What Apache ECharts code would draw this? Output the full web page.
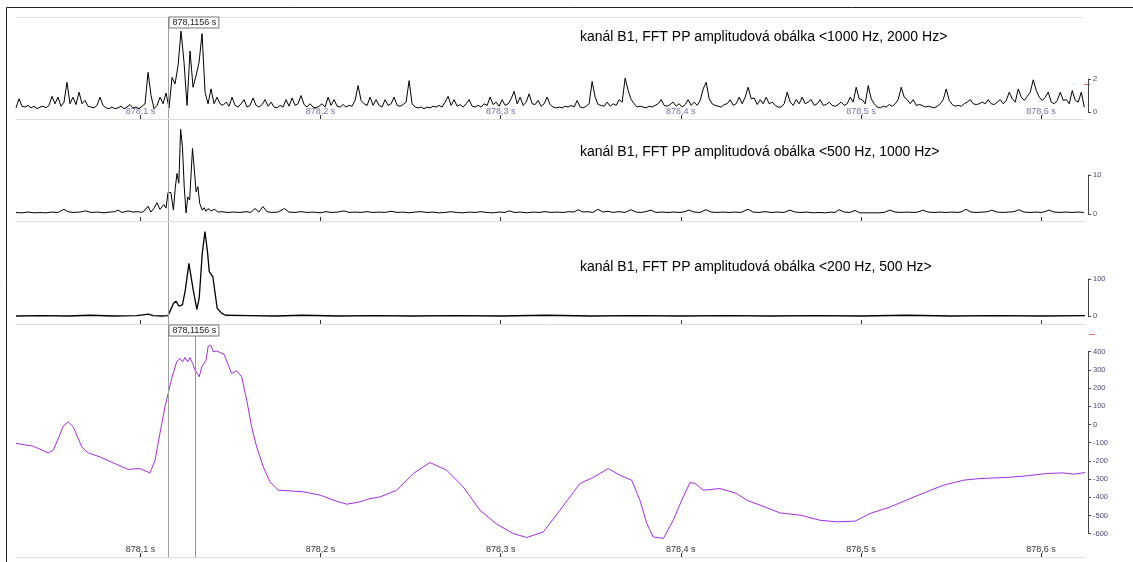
<!DOCTYPE html>
<html><head><meta charset="utf-8">
<script src="https://cdn.jsdelivr.net/npm/echarts@6/dist/echarts.min.js"></script>
<style>html,body{margin:0;padding:0;background:#fff;}#c{width:1133px;height:562px;}</style>
</head><body><div id="c"></div>
<script>
// ---------- DATA (time in ms after 878 s) ----------
const tickMs = [100, 200, 300, 400, 500, 600];
const cursorMs = 115.6;
const cursor2Ms = 130.3;
const cursorLabel = '878,1156 s';
const titles = [
  'kanál B1, FFT PP amplitudová obálka <1000 Hz, 2000 Hz>',
  'kanál B1, FFT PP amplitudová obálka <500 Hz, 1000 Hz>',
  'kanál B1, FFT PP amplitudová obálka <200 Hz, 500 Hz>'
];
const yTicks1 = [0, 2];
const yTicks2 = [0, 10];
const yTicks3 = [0, 100];
const yTicks4 = [-600, 400];

// panel 1: uniformly sampled envelope
const p1StartMs = 30.9;
const p1StepMs = 1.666;
const p1Values = [
0.25,0.8,0.35,0.3,0.4,0.25,0.35,0.2,0.3,0.35,
0.25,0.4,0.95,0.5,0.9,0.35,0.6,1.8,0.5,0.9,
0.45,1.2,0.5,0.7,0.35,0.3,0.25,0.4,0.9,0.4,
0.25,0.2,0.3,0.2,0.25,0.35,0.2,0.3,0.45,0.25,
0.3,0.2,0.35,0.5,2.4,1.0,0.2,0.4,0.9,0.5,
1.15,0.25,2.1,1.7,2.8,4.9,3.0,0.4,3.7,1.5,
2.2,3.0,4.75,1.2,0.5,1.4,0.5,0.9,0.5,0.4,
0.6,0.35,0.9,0.4,0.3,0.5,0.75,0.3,0.4,0.85,
0.4,0.3,0.45,0.75,0.35,0.6,0.3,0.25,0.4,0.3,
0.75,0.35,0.85,0.4,0.5,1.0,0.45,0.3,0.5,0.3,
0.25,0.35,0.5,0.3,0.9,0.4,0.75,0.35,0.3,0.45,
0.3,0.4,0.35,0.7,1.6,0.7,0.5,0.4,0.9,0.4,
0.75,0.4,0.3,0.75,0.4,0.5,0.9,0.4,0.35,0.45,
0.6,1.9,0.5,0.3,0.25,0.3,0.2,0.3,0.25,0.35,
0.3,0.4,0.3,0.6,0.95,0.4,0.75,0.35,0.45,0.3,
0.5,0.75,0.35,0.3,0.4,0.3,0.5,0.4,0.9,0.45,
0.6,0.35,0.75,0.4,0.5,0.8,1.25,0.5,0.9,0.4,
0.6,1.1,0.5,0.45,0.7,0.35,0.5,0.9,0.45,0.3,
0.25,0.3,0.25,0.35,0.3,0.4,0.3,0.7,0.3,0.25,
0.35,0.5,1.85,0.9,0.45,0.4,0.35,0.6,0.35,0.5,
0.4,0.75,0.6,2.05,1.3,0.75,0.5,0.3,0.35,0.3,
0.25,0.35,0.3,0.4,0.5,0.75,0.4,0.35,0.45,0.6,
0.35,0.5,0.3,0.45,0.75,0.4,0.6,0.4,0.7,1.4,
1.8,0.8,0.5,0.4,0.35,0.3,0.45,0.5,0.75,0.4,
0.5,0.9,0.5,0.9,1.5,0.8,0.85,0.45,0.75,0.5,
0.9,0.5,0.6,0.4,0.3,0.3,0.5,1.2,0.6,0.4,
0.75,0.5,0.9,0.5,0.6,0.75,0.4,0.5,0.75,0.4,
0.45,0.6,0.4,0.35,0.45,0.6,0.4,0.5,0.9,0.6,
1.5,0.8,0.75,0.5,1.6,0.8,0.5,0.3,0.25,0.35,
0.3,0.45,0.35,0.5,0.75,1.5,0.9,0.75,0.5,0.75,
0.4,0.45,0.4,0.3,0.35,0.3,0.25,0.35,0.5,0.75,
1.4,0.7,0.45,0.35,0.4,0.35,0.5,0.6,0.75,0.5,
0.45,0.5,0.6,0.5,0.75,0.5,0.45,0.6,0.75,0.5,
0.7,1.2,0.8,0.6,1.4,0.9,0.7,0.95,1.2,1.95,
1.3,0.9,0.7,0.9,1.2,0.6,0.5,0.7,1.2,0.7,
0.75,0.5,1.3,0.7,0.6,1.2,0.3
];

// panel 2: [ms, value]
const p2Points = [
[30.9,0.4],[34.2,0.3],[37.5,0.5],[40.9,0.3],[44.2,0.4],[47.5,0.3],[50.9,0.5],[54.2,0.4],[57.5,1.2],[59.7,0.6],
[62.5,0.4],[66.4,0.5],[69.7,0.8],[72.5,0.4],[76.4,0.5],[79.7,0.3],[83.1,0.5],[85.8,0.6],[87.5,1.0],[89.7,0.4],
[93.1,0.8],[95.8,0.5],[98.6,0.6],[100.8,0.4],[102.5,1.0],[104.2,2.0],[105.8,0.5],[107.5,1.5],[109.2,2.9],[110.8,1.2],
[113.0,2.4],[114.2,1.5],[115.3,5.5],[116.9,5.5],[118.3,1.0],[119.3,6.6],[120.3,10.4],[121.3,7.9],[122.3,21.7],[123.3,17.3],
[124.3,7.0],[125.3,0.3],[126.3,4.4],[127.3,3.6],[128.9,16.8],[129.9,11.3],[130.9,5.7],[131.9,7.0],[132.9,2.7],[134.3,1.0],
[135.3,1.6],[136.4,0.7],[137.5,1.4],[139.1,0.8],[141.2,1.2],[143.0,0.5],[145.2,0.6],[148.6,0.4],[151.9,0.5],[155.2,0.4],
[158.6,0.6],[161.3,0.4],[163.6,1.4],[165.8,0.5],[168.0,1.9],[170.2,0.6],[173.0,0.4],[176.3,0.5],[180.0,1.4],[182.4,0.5],
[185.8,0.4],[189.1,0.6],[192.4,0.4],[195.8,0.5],[199.7,0.3],[203.0,0.6],[206.3,0.4],[209.6,0.5],[213.0,0.8],[215.8,0.4],
[219.1,0.5],[222.4,0.4],[225.8,0.6],[229.1,0.4],[232.4,0.5],[235.7,0.4],[239.1,0.7],[242.4,0.4],[245.7,0.5],[249.1,0.3],
[252.4,0.5],[255.7,0.6],[259.1,0.4],[262.4,0.5],[265.7,0.3],[269.1,0.4],[272.4,0.6],[275.7,0.4],[279.1,0.3],[282.4,0.5],
[285.7,0.4],[289.0,0.6],[292.4,0.4],[295.7,0.3],[299.0,0.5],[302.4,0.4],[304.6,0.8],[307.9,0.4],[311.2,0.5],[314.6,0.3],
[317.9,0.5],[321.2,0.4],[324.6,0.6],[327.9,0.4],[331.2,0.5],[334.6,0.4],[337.9,0.6],[340.7,0.5],[342.9,1.1],[345.7,0.5],
[348.4,0.6],[351.2,0.4],[354.0,1.2],[356.8,0.5],[359.6,0.7],[362.3,0.4],[365.7,0.6],[369.0,0.4],[372.3,1.1],[375.1,0.5],
[377.9,0.4],[380.6,0.6],[383.4,1.0],[386.2,0.4],[389.5,0.5],[392.9,0.4],[396.2,0.5],[399.5,0.4],[402.3,0.6],[404.5,1.0],
[407.3,0.5],[410.6,0.4],[414.0,1.1],[416.7,0.5],[420.1,0.4],[423.4,0.5],[426.7,0.4],[430.1,0.5],[433.4,0.4],[437.3,1.2],
[440.1,0.5],[443.4,0.4],[446.7,0.6],[450.1,0.4],[453.4,0.5],[457.3,0.4],[460.6,1.0],[463.4,0.5],[466.7,0.4],[470.0,0.5],
[473.4,0.3],[476.7,0.4],[480.0,0.3],[483.4,0.5],[485.6,0.4],[487.8,1.1],[490.6,0.5],[493.9,0.4],[496.7,0.9],[499.5,0.3],
[502.8,0.3],[506.1,0.3],[509.5,0.3],[512.8,0.4],[516.1,1.0],[518.9,0.5],[522.2,0.4],[525.6,0.5],[528.9,0.4],[531.7,0.5],
[534.4,1.0],[537.2,0.5],[540.5,0.4],[543.9,0.5],[547.2,0.4],[550.5,0.5],[553.9,0.4],[556.1,0.6],[558.3,1.2],[561.1,0.5],
[564.4,0.4],[567.8,0.5],[570.5,0.6],[572.7,1.0],[575.5,0.5],[578.9,0.4],[582.2,0.5],[585.0,0.6],[587.7,1.1],[590.5,0.5],
[593.8,0.4],[597.2,0.5],[600.0,0.4],[602.2,0.6],[604.4,1.0],[607.2,0.5],[610.5,0.4],[613.8,0.5],[617.2,0.4],[620.5,0.5],
[623.8,0.4]
];

// panel 3: [ms, value]
const p3Points = [
[30.9,0],[45,1],[60,0],[72,2],[85,0],[98,1],[104.4,5],[107,1],[112,0],[115.3,1],
[118.3,34],[119.7,40],[121.3,27],[123.3,30],[124.9,70],[126.9,142],[127.9,138],[129.3,70],[131.3,18],[132.6,48],
[134.3,169],[135.8,228],[137.2,174],[138.2,120],[140.2,106],[141.2,70],[142.6,21],[145.2,7],[147.2,2],[160,1],
[175,0],[190,2],[210,0],[230,1],[250,0],[275,1],[300,0],[325,2],[350,0],[375,1],
[400,0],[425,1],[450,0],[475,1],[500,0],[525,2],[550,0],[575,1],[600,0],[624.4,1]
];

// panel 4: [ms, value]
const p4Points = [
[30.9,-104],[40.5,-119],[48.8,-156],[51.6,-141],[54.4,-77],[57.1,-9],[59.9,14],[62.7,-13],[67.4,-123],[71.0,-156],
[77.5,-178],[84.9,-211],[93.2,-247],[99.7,-242],[105.3,-266],[108.1,-196],[110.8,-49],[113.6,97],[115.4,170],[117.3,253],
[120.1,344],[121.9,363],[123.4,344],[124.7,368],[126.2,344],[127.5,368],[129.0,335],[130.3,298],[131.5,280],[132.6,262],
[134.0,316],[135.3,335],[136.4,353],[137.6,430],[139.1,436],[140.4,399],[142.3,404],[144.1,396],[146.4,386],[148.8,326],
[150.6,280],[153.4,295],[156.2,262],[159.0,134],[161.7,-13],[164.5,-123],[168.2,-233],[171.9,-315],[176.5,-361],[183.0,-365],
[190.4,-370],[199.7,-388],[207.1,-416],[214.5,-438],[221.9,-425],[227.4,-407],[233.0,-398],[242.3,-361],[251.5,-269],[260.7,-209],
[270.0,-251],[279.2,-343],[288.5,-471],[297.8,-548],[307.0,-599],[314.4,-621],[323.7,-590],[332.9,-471],[344.0,-324],[351.4,-291],
[359.7,-242],[366.2,-279],[372.7,-306],[377.3,-416],[381.1,-544],[384.7,-618],[390.3,-626],[395.8,-526],[400.5,-416],[405.1,-319],
[407.9,-324],[412.5,-361],[421.8,-352],[431.0,-379],[436.6,-416],[444.0,-443],[455.1,-486],[466.2,-498],[477.3,-526],[486.6,-535],
[496.7,-531],[505.1,-489],[516.2,-453],[527.3,-407],[536.5,-370],[545.7,-334],[556.9,-306],[566.1,-297],[581.0,-291],[592.0,-282],
[603.2,-269],[612.4,-266],[617.9,-273],[624.4,-264]
];

// ---------- LAYOUT ----------
const X_MIN = 30.9, X_MAX = 624.4;
const PLOT_LEFT = 16, PLOT_WIDTH = 1069;
const FONT = '"Liberation Sans", Arial, sans-serif';
const panels = [
  {top: 17,  bottom: 119, ticks: yTicks1, loPx: 112,   hiPx: 79,    labels: true,  labelColor: '#6f76a4', titleTop: 30},
  {top: 120, bottom: 221, ticks: yTicks2, loPx: 214,   hiPx: 175,   labels: false, titleTop: 145},
  {top: 222, bottom: 324, ticks: yTicks3, loPx: 316,   hiPx: 279,   labels: false, titleTop: 260},
  {top: 325, bottom: 557, ticks: yTicks4, loPx: 533.7, hiPx: 351.7, labels: true,  labelColor: '#333'}
];

const p1Data = p1Values.map((v, k) => [p1StartMs + k * p1StepMs, v]);
const seriesData = [p1Data, p2Points, p3Points, p4Points];

const grids = [], xAxes = [], yAxes = [], series = [];
const fmt = v => (878 + v / 1000).toFixed(1).replace('.', ',') + ' s';

panels.forEach((p, i) => {
  const lo = p.ticks[0], hi = p.ticks[1];
  const k = (p.loPx - p.hiPx) / (hi - lo);
  const yMin = lo - (p.bottom - p.loPx) / k;
  const yMax = lo + (p.loPx - p.top) / k;
  grids.push({left: PLOT_LEFT, width: PLOT_WIDTH, top: p.top, height: p.bottom - p.top, outerBoundsMode: 'none', containLabel: false});
  xAxes.push({
    gridIndex: i, type: 'value', min: X_MIN, max: X_MAX,
    axisLine: {show: true, onZero: false, lineStyle: {color: '#dedede', width: 1}},
    axisTick: {show: true, inside: true, length: 4, customValues: tickMs, lineStyle: {color: '#333'}},
    axisLabel: {show: p.labels, inside: true, margin: 3, customValues: tickMs, formatter: fmt,
      fontSize: 9, fontFamily: FONT, color: p.labelColor || '#333'},
    splitLine: {show: false}
  });
  yAxes.push({gridIndex: i, type: 'value', min: yMin, max: yMax, show: false});
});
panels.forEach((p, i) => {
  const lo = p.ticks[0], hi = p.ticks[1];
  grids.push({left: 1080, width: 8, top: p.hiPx, height: p.loPx - p.hiPx, outerBoundsMode: 'none', containLabel: false});
  xAxes.push({gridIndex: 4 + i, type: 'value', min: 0, max: 1, show: false});
  yAxes.push({
    gridIndex: 4 + i, type: 'value', position: 'right', min: lo, max: hi,
    interval: i === 3 ? 100 : (hi - lo),
    axisLine: {show: true, onZero: false, lineStyle: {color: '#444', width: 1}},
    axisTick: {show: true, length: 3, lineStyle: {color: '#444'}},
    axisLabel: {show: true, margin: 5, fontSize: 7.5, fontFamily: FONT, color: '#4a4a72'},
    splitLine: {show: false}
  });
});

seriesData.forEach((d, i) => {
  const mlData = [{xAxis: cursorMs, lineStyle: {color: '#a0a0a0', width: 1, type: 'solid'}}];
  if (i === 3) mlData.push({xAxis: cursor2Ms, lineStyle: {color: '#6a9fd4', width: 1, type: 'solid'}});
  series.push({
    type: 'line', xAxisIndex: i, yAxisIndex: i, data: d,
    showSymbol: false, symbol: 'none', sampling: null,
    lineStyle: {color: i === 3 ? '#a12ee6' : '#000', width: i === 2 ? 1.3 : 1},
    markLine: {silent: true, symbol: ['none', 'none'], label: {show: false}, data: mlData, animation: false},
    z: 3
  });
});

const titleOpts = titles.map((t, i) => ({
  text: t, left: 580, top: panels[i].titleTop, padding: 0,
  textStyle: {fontSize: 14, fontWeight: 'normal', color: '#000', fontFamily: FONT}
}));

const chart = echarts.init(document.getElementById('c'), null, {renderer: 'canvas'});
chart.setOption({
  animation: false,
  backgroundColor: '#fff',
  title: titleOpts,
  grid: grids, xAxis: xAxes, yAxis: yAxes, series: series
});

const cx = chart.convertToPixel({xAxisIndex: 0}, cursorMs);
const boxStyle = {
  text: cursorLabel, font: '9px ' + FONT, fill: '#222', align: 'left', verticalAlign: 'top',
  backgroundColor: '#fff', borderColor: '#777', borderWidth: 1, padding: [1, 2, 0, 3]
};
chart.setOption({
  graphic: [
    {type: 'line', silent: true, shape: {x1: 6.5, y1: 7.5, x2: 1133, y2: 7.5}, style: {stroke: '#222', lineWidth: 1}},
    {type: 'line', silent: true, shape: {x1: 6.5, y1: 7.5, x2: 6.5, y2: 562}, style: {stroke: '#222', lineWidth: 1}},
    {type: 'line', silent: true, shape: {x1: 16, y1: 17.5, x2: 1083, y2: 17.5}, style: {stroke: '#e4e4e4', lineWidth: 1}},
    {type: 'line', silent: true, shape: {x1: 1084, y1: 84.5, x2: 1090, y2: 84.5}, style: {stroke: '#e07070', lineWidth: 1}},
    {type: 'line', silent: true, shape: {x1: 1089, y1: 334.5, x2: 1095, y2: 334.5}, style: {stroke: '#e07070', lineWidth: 1}},
    {type: 'text', silent: true, z: 100, x: Math.round(cx) + 0.5, y: 17.5, style: boxStyle},
    {type: 'text', silent: true, z: 100, x: Math.round(cx) + 0.5, y: 325.5, style: boxStyle}
  ]
});
</script></body></html>
